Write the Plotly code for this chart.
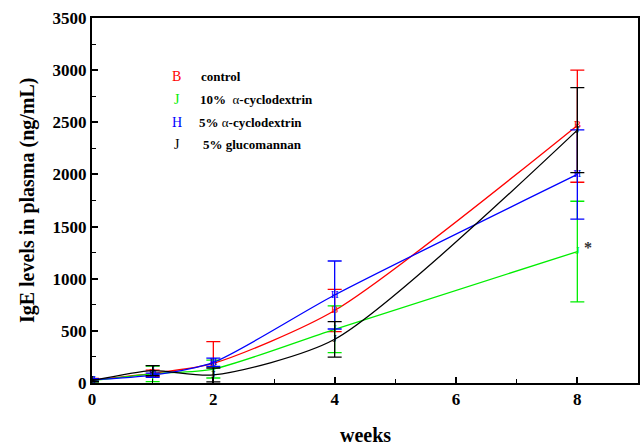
import plotly.graph_objects as go

weeks = [0, 1, 2, 4, 8]

control = [30, 93, 188, 695, 2470]
control_err_plus = [15, 30, 208, 203, 530]
control_err_minus = [15, 30, 230, 203, 545]

cd10 = [22, 88, 134, 515, 1260]
cd10_err = [10, 75, 86, 224, 483]

cd5 = [30, 75, 198, 844, 2000]
cd5_err = [12, 20, 40, 326, 428]

gm5 = [22, 118, 77, 419, 2425]
gm5_err = [10, 48, 67, 170, 408]

series = [
    ("control", control, control_err_plus, control_err_minus, "#ff0000", "B"),
    ("10%  α-cyclodextrin", cd10, cd10_err, cd10_err, "#00ee00", "J"),
    ("5% α-cyclodextrin", cd5, cd5_err, cd5_err, "#0000ff", "H"),
    ("5% glucomannan", gm5, gm5_err, gm5_err, "#000000", "J"),
]

FONT = "Liberation Serif, Times New Roman, serif"

fig = go.Figure()
for name, vals, ep, em, color, sym in series:
    fig.add_trace(go.Scatter(
        x=weeks, y=vals, name=name,
        mode="lines+text",
        text=[sym] * len(weeks),
        textposition="middle center",
        textfont=dict(family=FONT, size=11, color=color),
        line=dict(color=color, width=1.3, shape="spline", smoothing=0.7),
        error_y=dict(type="data", array=ep, arrayminus=em, visible=True,
                     color=color, thickness=1.3, width=7),
        showlegend=False,
    ))

# legend drawn as annotations
legend_rows = [
    ("B", "#ff0000", "<b>control</b>", 2937, 1.76),
    ("J", "#00ee00", "<b>10%  </b>α<b>-cyclodextrin</b>", 2720, 1.75),
    ("H", "#0000ff", "<b>5% </b>α<b>-cyclodextrin</b>", 2495, 1.73),
    ("J", "#000000", "<b>5% glucomannan</b>", 2290, 1.79),
]
for sym, color, label, yv, xl in legend_rows:
    fig.add_annotation(x=1.40, y=yv, xref="x", yref="y", text=sym, showarrow=False,
                       font=dict(family=FONT, size=14, color=color), xanchor="center", yanchor="middle")
    fig.add_annotation(x=xl, y=yv, xref="x", yref="y", text=label, showarrow=False,
                       font=dict(family=FONT, size=13, color="black"), xanchor="left", yanchor="middle")

fig.add_annotation(x=8.17, y=1300, xref="x", yref="y", text="<b>*</b>", showarrow=False,
                   font=dict(family=FONT, size=16, color="#333"), xanchor="center", yanchor="middle")

# axis titles as annotations for exact placement
fig.add_annotation(x=0.5, y=-0.142, xref="paper", yref="paper", text="<b>weeks</b>", showarrow=False,
                   font=dict(family=FONT, size=20, color="black"), xanchor="center", yanchor="middle")
fig.add_annotation(x=-0.118, y=0.5, xref="paper", yref="paper", text="<b>IgE levels in plasma (ng/mL)</b>",
                   showarrow=False, textangle=-90,
                   font=dict(family=FONT, size=20, color="black"), xanchor="center", yanchor="middle")

fig.update_layout(
    width=640, height=445,
    margin=dict(l=92, r=2, t=18, b=62, autoexpand=False),
    paper_bgcolor="white", plot_bgcolor="white",
    font=dict(family=FONT, color="black"),
    xaxis=dict(
        range=[0, 9], tickvals=[0, 2, 4, 6, 8], ticks="inside", ticklen=6, tickwidth=1.5,
        tickcolor="black", automargin=False,
        minor=dict(tickvals=[1, 3, 5, 7], ticks="inside", ticklen=4, tickwidth=1.3, tickcolor="black"),
        showline=True, linecolor="black", linewidth=2, mirror=True, showgrid=False, zeroline=False,
        tickfont=dict(family=FONT, size=17, weight="bold"),
    ),
    yaxis=dict(
        range=[0, 3500], dtick=500, ticks="inside", ticklen=6, tickwidth=1.5, tickcolor="black",
        automargin=False,
        minor=dict(dtick=250, ticks="inside", ticklen=4, tickwidth=1.3, tickcolor="black"),
        showline=True, linecolor="black", linewidth=2, mirror=True, showgrid=False, zeroline=False,
        tickfont=dict(family=FONT, size=17, weight="bold"),
    ),
)

fig.write_html("out.html", config={"displayModeBar": False},
               post_script="document.body.style.margin='0';document.body.style.overflow='hidden';")
